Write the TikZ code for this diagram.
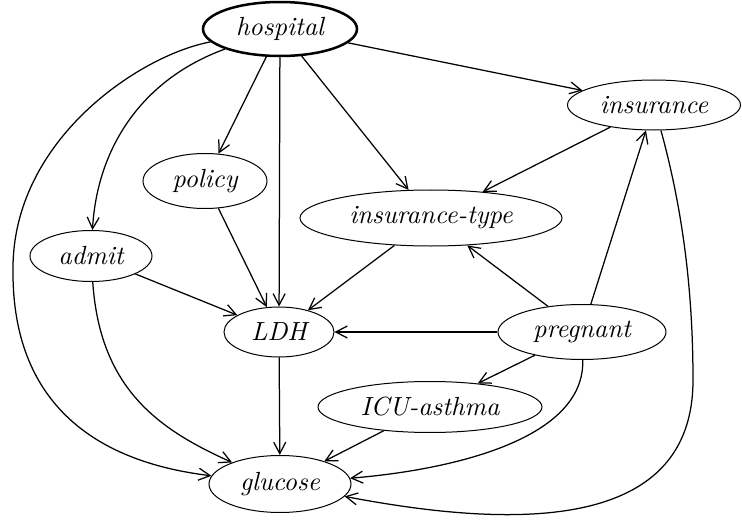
\documentclass[tikz,border=0pt]{standalone}
\usetikzlibrary{shapes.geometric,arrows.meta}
\begin{document}
\begin{tikzpicture}[x=0.4pt,y=-0.4pt,
  nd/.style={ellipse,draw,line width=0.4pt,inner sep=0pt,
    font=\fontsize{10.5}{12}\selectfont\itshape},
  edge/.style={line width=0.5pt,-{Straight Barb[length=4.6pt,width=4.8pt]}}]
\useasboundingbox (0,0) rectangle (742,520);
\node[nd,line width=1pt,minimum width=61.6pt,minimum height=21.6pt] (hospital) at (280,29) {hospital};
\node[nd,minimum width=69.2pt,minimum height=20pt] (insurance) at (654,105) {insurance};
\node[nd,minimum width=49.6pt,minimum height=22pt] (policy) at (205,181) {policy};
\node[nd,minimum width=104.8pt,minimum height=22.4pt] (instype) at (431,218) {insurance-type};
\node[nd,minimum width=48.8pt,minimum height=20.4pt] (admit) at (91,256) {admit};
\node[nd,minimum width=44pt,minimum height=20pt] (LDH) at (279,332) {LDH};
\node[nd,minimum width=67.2pt,minimum height=22pt] (pregnant) at (582,332) {pregnant};
\node[nd,minimum width=89.6pt,minimum height=20.4pt] (icu) at (430,407) {ICU-asthma};
\node[nd,minimum width=56.8pt,minimum height=22.8pt] (glucose) at (280,484) {glucose};
\coordinate (hg) at (13,270);
\coordinate (ig) at (693,380);
\draw[edge] (hospital) -- (insurance);
\draw[edge] (hospital) -- (policy);
\draw[edge] (hospital) -- (LDH);
\draw[edge] (hospital) -- (instype);
\draw[edge] (hospital) .. controls (140,80) and (97,150) .. (admit);
\draw[edge] (hospital) .. controls (140,55) and (12,140) .. (hg) .. controls (12,390) and (80,460) .. (glucose);
\draw[edge] (insurance) -- (instype);
\draw[edge] (insurance) .. controls (680,200) and (693,280) .. (ig) .. controls (693,530) and (520,530) .. (glucose);
\draw[edge] (policy) -- (LDH);
\draw[edge] (instype) -- (LDH);
\draw[edge] (admit) -- (LDH);
\draw[edge] (admit) .. controls (100,390) and (160,430) .. (glucose);
\draw[edge] (LDH) -- (glucose);
\draw[edge] (pregnant) -- (LDH);
\draw[edge] (pregnant) -- (instype);
\draw[edge] (pregnant) -- (insurance);
\draw[edge] (pregnant) -- (icu);
\draw[edge] (pregnant) .. controls (585,440) and (450,470) .. (glucose);
\draw[edge] (icu) -- (glucose);
\end{tikzpicture}
\end{document}
